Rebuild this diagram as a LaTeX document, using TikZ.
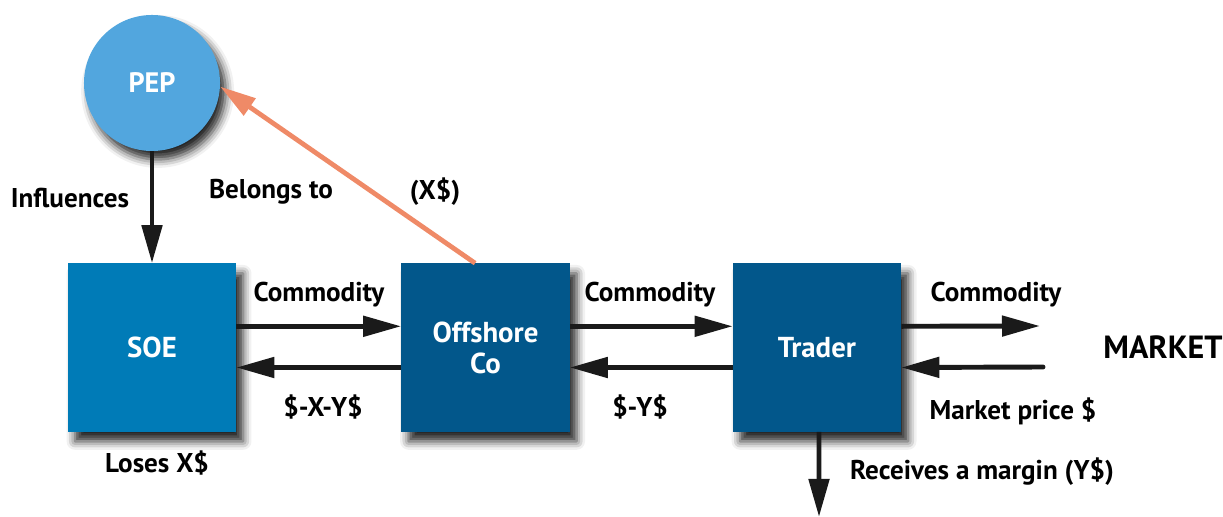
\documentclass[tikz,border=0pt]{standalone}
\usepackage{fontspec}
\setmainfont{PT Sans}
\usepackage{xcolor}
\usetikzlibrary{arrows.meta,shadows.blur}

\definecolor{pepblue}{HTML}{52A6DE}
\definecolor{soeblue}{HTML}{007BB7}
\definecolor{darkblue}{HTML}{02578B}
\definecolor{owncolor}{HTML}{EF8A67}
\definecolor{flowblack}{HTML}{1A1A1A}

\tikzset{
  boxnode/.style={minimum width=4.2cm,minimum height=4.2cm,inner sep=0pt,
    text=white,font=\bfseries\fontsize{20.5}{22}\selectfont,align=center,
    blur shadow={shadow xshift=5pt,shadow yshift=-7pt,shadow blur radius=6pt,shadow opacity=85}},
  flow/.style={draw=flowblack,line width=3.5pt,-{Triangle[length=0.95cm,width=0.5cm]}},
  lbl/.style={font=\bfseries\fontsize{19.3}{22}\selectfont,text=black,inner sep=0pt}
}

\begin{document}
\begin{tikzpicture}[x=0.025cm,y=-0.025cm]
\useasboundingbox (0,0) rectangle (1223,517);

\node[circle,fill=pepblue,minimum size=3.4cm,inner sep=0pt,text=white,
  font=\bfseries\fontsize{20}{22}\selectfont,
  blur shadow={shadow xshift=4pt,shadow yshift=-6pt,shadow blur radius=6pt,shadow opacity=85}] (pep) at (152,83) {PEP};
\node[boxnode,fill=soeblue] (soe) at (152,347.5) {SOE};
\node[boxnode,fill=darkblue] (offshore) at (485.5,347.5) {Offshore\\Co};
\node[boxnode,fill=darkblue] (trader) at (817,347.5) {Trader};

\coordinate (mktout) at (1040,326);
\coordinate (mktin) at (1043,367);
\coordinate (margin) at (819,517);

% flows
\draw[flow] (pep.south) -- (soe.north);
\draw[flow] ([yshift=0.53cm]soe.east) -- ([yshift=0.53cm]offshore.west);
\draw[flow] ([yshift=-0.5cm]offshore.west) -- ([yshift=-0.5cm]soe.east);
\draw[flow] ([yshift=0.53cm]offshore.east) -- ([yshift=0.53cm]trader.west);
\draw[flow] ([yshift=-0.5cm]trader.west) -- ([yshift=-0.5cm]offshore.east);
\draw[flow] ([yshift=0.53cm]trader.east) -- (mktout);
\draw[flow,line cap=round] (mktin) -- ([yshift=-0.5cm]trader.east);
\draw[flow] ([xshift=0.05cm]trader.south) -- (margin);
\draw[draw=owncolor,line width=3.4pt,-{Triangle[length=0.9cm,width=0.5cm]}]
  ([xshift=-0.26cm]offshore.north) -- (pep.-3);

\node[lbl] (influences) at (70,198) {Influences};
\node[lbl] (belongs) at (271,192) {Belongs to};
\node[lbl] (xshare) at (435,192) {(X\$)};
\node[lbl] (comm1) at (319,295) {Commodity};
\node[lbl] (comm2) at (650,295) {Commodity};
\node[lbl] (comm3) at (996,295) {Commodity};
\node[lbl] (pay1) at (323,407) {\$-X-Y\$};
\node[lbl] (pay2) at (640,407) {\$-Y\$};
\node[lbl] (loses) at (157,463) {Loses X\$};
\node[lbl] (price) at (1013,411) {Market price \$};
\node[lbl] (receives) at (982,472) {Receives a margin (Y\$)};
\node[lbl,font=\bfseries\fontsize{22.8}{26}\selectfont] (market) at (1163,347) {MARKET};
\end{tikzpicture}
\end{document}
